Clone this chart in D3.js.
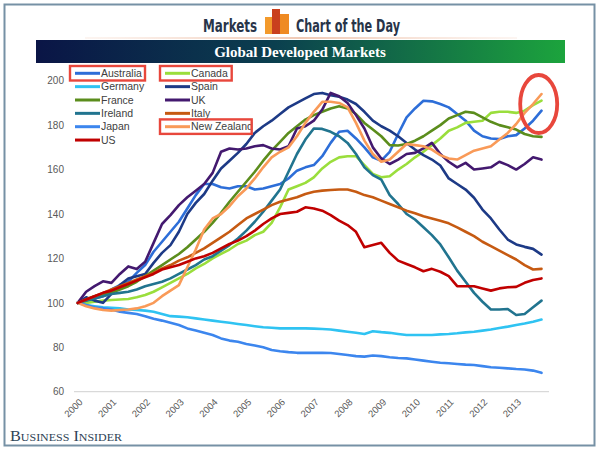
<!DOCTYPE html>
<html>
<head>
<meta charset="utf-8">
<script src="https://cdn.jsdelivr.net/npm/d3@7"></script>
<style>
    body { margin: 0; background: #fff; }
    svg { display: block; }
</style>
</head>
<body>
<svg width="599" height="450"></svg>
<script>
// quarterly house price index, 2000 Q1 = 100
const years = [2000, 2001, 2002, 2003, 2004, 2005, 2006, 2007, 2008, 2009, 2010, 2011, 2012, 2013];
const quarters = d3.range(56).map((i) => 2000 + i / 4);
const yTicks = [60, 80, 100, 120, 140, 160, 180, 200];

const australia = [100, 101, 102, 103, 106, 108, 109.5, 113.5, 117, 123, 127.5, 132, 136.5, 142.5, 148.5, 153.5, 153.5, 152, 151.5, 152.5, 152.5, 151, 151.5, 152.5, 153.5, 156, 159.5, 161, 162, 166, 172, 177, 177.5, 174, 170, 165.5, 164, 168, 176, 183.5, 187.5, 191, 190.7, 189.5, 188, 185, 182, 177.5, 175, 174, 173.7, 175, 175.5, 178.5, 182, 186.5];
const canada = [100, 100, 100.5, 101, 101.3, 101.5, 101.7, 102.5, 103.5, 105, 107, 109, 111, 113, 115.5, 117.5, 120, 122, 124, 126.5, 128, 130.5, 132, 136, 143, 151, 152.5, 154, 156.5, 160.5, 163.5, 165.5, 166, 166, 162, 158, 156.5, 157, 160, 162.5, 165.5, 168, 171, 174, 177.5, 179, 181, 181.5, 182, 185.5, 186, 186, 185.5, 186.5, 189, 191];
const germany = [100, 99, 98.5, 98, 97.8, 97.5, 97, 96.8, 96.5, 96, 95, 94, 93.8, 93.5, 93, 92.5, 92, 91.5, 91, 90.5, 90, 89.5, 89, 88.8, 88.5, 88.5, 88.5, 88.5, 88.4, 88.2, 88, 87.5, 87, 86.5, 86, 87.2, 86.8, 86.5, 86, 85.5, 85.5, 85.5, 85.5, 85.8, 86, 86.3, 86.7, 87, 87.5, 88, 88.7, 89.3, 90, 90.7, 91.5, 92.5];
const spain = [100, 102.5, 101, 100, 104, 108, 111, 112, 113, 118, 122.5, 126, 132, 140, 145, 149, 155, 160.5, 164, 167.5, 171.5, 176.5, 179.5, 182, 185, 188, 190, 192, 194, 194.5, 193.5, 192.8, 191.5, 189.5, 186, 182, 179.5, 177.5, 175, 172, 169, 166.5, 164.5, 161.8, 156, 153.5, 151, 147.3, 142, 138, 133, 128.5, 126.3, 125.2, 124.3, 121.7];
const france = [100, 101.5, 103, 104, 104.5, 106, 107.5, 109.5, 112, 114.5, 117, 119.5, 122, 125, 128.5, 132, 136, 140.5, 145.5, 150, 154.5, 159, 164, 168.5, 172.5, 176.5, 179.5, 182.5, 184.5, 186, 187.5, 188.5, 187.5, 185, 181, 178, 175, 171, 170.8, 171.5, 173, 175, 177.5, 180, 183, 184.5, 186, 185.5, 183.5, 181.5, 180, 179, 178, 176, 175, 174.7];
const uk = [100, 105, 107.5, 109.7, 109, 113, 116.4, 115.2, 118.5, 127, 135.5, 139.5, 144, 147.5, 150.5, 153.5, 158.5, 168, 169.5, 169, 169.5, 170.5, 171, 169.5, 169, 170.5, 178.5, 179.5, 182, 187, 194.5, 193, 190, 184.5, 178.5, 170, 165, 162.5, 164.5, 167, 167.5, 169.5, 172, 167, 163.5, 161, 163, 160, 160.5, 161, 163.5, 162, 160, 162.5, 165.5, 164.5];
const ireland = [100, 101, 102, 103, 104, 104.5, 105, 106, 107.5, 108.5, 109.5, 111, 113, 115, 117, 119.5, 121, 123.5, 126, 129, 132.5, 136.5, 141, 146, 151, 159, 167, 173.5, 178.5, 178.3, 177, 175, 172, 167, 161, 157.5, 155.5, 148.5, 144.5, 140, 137.5, 134, 130.5, 126.3, 120.5, 114.5, 109.5, 104.5, 100.5, 97, 97, 97.2, 94.5, 95, 98, 101];
const italy = [100, 101.5, 103, 104.5, 106, 107.5, 109, 110.5, 112, 113.5, 115.5, 117, 119, 120.5, 122.5, 124.5, 127, 129.5, 132, 135, 138, 140, 142, 144, 145.5, 146.5, 147.5, 149, 150, 150.5, 150.8, 151, 151, 150, 148.5, 147.5, 146, 144.5, 143, 141.5, 140.3, 139, 138, 137, 135.8, 134, 132, 130, 127.5, 125.5, 123.5, 121.5, 119.5, 117, 115, 115.3];
const japan = [100, 99, 98, 97.5, 97, 96, 95.5, 95, 94, 92.8, 92, 91, 90, 88.5, 87.5, 86.5, 85.5, 84, 83, 82.5, 81.5, 80.8, 80, 78.8, 78.2, 77.8, 77.5, 77.5, 77.5, 77.5, 77.4, 77, 76.5, 76, 75.8, 76.3, 76, 75.5, 75.2, 75, 74.5, 74, 73.5, 73, 72.8, 72.5, 72.2, 72, 71.5, 71, 70.8, 70.5, 70.2, 70, 69.5, 68.5];
const newZealand = [100, 98.5, 97.5, 96.8, 96.5, 96.8, 97, 97.5, 98.5, 100, 103, 105.5, 108, 116, 124, 133, 138, 140, 143.5, 148, 151.5, 156, 161, 165.5, 168, 170, 175, 181, 186, 190.5, 190.5, 190, 188, 181, 173, 167, 163.5, 164.5, 168, 171.5, 171, 170.5, 169, 166.5, 165, 164.5, 166.5, 168.5, 169.5, 170.5, 173.5, 176.5, 180.5, 185.5, 189.5, 194];
const us = [100, 101.5, 103, 104.5, 105.5, 107, 108.5, 110, 111.5, 113, 115, 116, 117, 118.5, 120, 121, 122.5, 124.5, 126.5, 128, 130, 132.5, 135.5, 138, 140, 140.5, 141, 143, 142.5, 141.5, 139.5, 137, 135, 132, 125, 126, 127, 122.5, 119, 117.5, 116, 114.2, 115.3, 114, 112, 107.5, 107.5, 107.5, 106.5, 105.5, 106.5, 107, 107.2, 109, 110.3, 111];

// drawing order = Excel series order (US ends on top)
const names = ['Australia', 'Canada', 'Germany', 'Spain', 'France', 'UK', 'Ireland', 'Italy', 'Japan', 'New Zealand', 'US'];
const values = [australia, canada, germany, spain, france, uk, ireland, italy, japan, newZealand, us];
const colors = ['#2d6ed8', '#9ade3c', '#2fc3f2', '#1d3a86', '#5b8d1c', '#43196f', '#21748f', '#c65a12', '#3c86ee', '#f99a58', '#c00000'];
const circled = ['Australia', 'Canada', 'New Zealand'];

function renderChart() {
    const svg = d3.select('svg');
    const defs = svg.append('defs');

    // frame round the whole picture
    svg.append('rect')
        .attr('x', 4.5)
        .attr('y', 4.5)
        .attr('width', 590)
        .attr('height', 441)
        .attr('fill', 'none')
        .attr('stroke', '#7691a5')
        .attr('stroke-width', 2);

    // header: Markets [icon] Chart of the Day
    const head = svg.append('g').attr('fill', '#283449').style('font-family', '"DejaVu Sans Condensed", "Liberation Sans Narrow", sans-serif').style('font-weight', 'bold').style('font-size', '17px');
    head.append('text').attr('x', 203).attr('y', 32).attr('textLength', 54).attr('lengthAdjust', 'spacingAndGlyphs').text('Markets');
    head.append('text').attr('x', 296).attr('y', 32).attr('textLength', 104).attr('lengthAdjust', 'spacingAndGlyphs').text('Chart of the Day');
    head.append('rect').attr('x', 265).attr('y', 17).attr('width', 9).attr('height', 17).attr('fill', '#f39a2c');
    head.append('rect').attr('x', 280).attr('y', 14).attr('width', 9).attr('height', 20).attr('fill', '#ef8a22');
    head.append('rect').attr('x', 272).attr('y', 9).attr('width', 8).attr('height', 25).attr('fill', '#c9401e');

    const peach = defs.append('linearGradient').attr('id', 'peach');
    peach.append('stop').attr('offset', 0).attr('stop-color', '#f6ddd0').attr('stop-opacity', 0.3);
    peach.append('stop').attr('offset', 0.5).attr('stop-color', '#f0c9b4');
    peach.append('stop').attr('offset', 1).attr('stop-color', '#f6ddd0').attr('stop-opacity', 0.3);
    svg.append('rect').attr('x', 85).attr('y', 37).attr('width', 432).attr('height', 2).attr('fill', 'url(#peach)');

    const band = defs.append('linearGradient').attr('id', 'band');
    band.append('stop').attr('offset', 0).attr('stop-color', '#0a1546');
    band.append('stop').attr('offset', 0.45).attr('stop-color', '#0b3f4f');
    band.append('stop').attr('offset', 1).attr('stop-color', '#1ca43d');
    svg.append('rect').attr('x', 36).attr('y', 40).attr('width', 529).attr('height', 23).attr('fill', 'url(#band)');
    svg.append('text')
        .attr('x', 300)
        .attr('y', 57)
        .attr('text-anchor', 'middle')
        .attr('fill', '#fff')
        .style('font', 'bold 15px "Liberation Serif", serif')
        .text('Global Developed Markets');

    // scales
    const x = d3.scaleLinear().domain([2000, 2013.75]).range([77.7, 541.5]);
    const y = d3.scaleLinear().domain([60, 200]).range([391.7, 80.7]);

    // only the 60 line is drawn
    svg.append('line')
        .attr('x1', 74)
        .attr('x2', 549)
        .attr('y1', y(60))
        .attr('y2', y(60))
        .attr('stroke', '#d9d9d9')
        .attr('stroke-width', 1.2);

    const yAxis = d3.axisLeft(y).tickValues(yTicks).tickSize(0).tickPadding(0);
    svg.append('g')
        .attr('transform', 'translate(64,0)')
        .call(yAxis)
        .call((g) => g.select('.domain').remove())
        .selectAll('text')
        .attr('fill', '#595959')
        .style('font', '10px "Liberation Sans", Arial, sans-serif');

    const xAxis = d3.axisBottom(x).tickValues(years).tickFormat(d3.format('d')).tickSize(0);
    svg.append('g')
        .attr('transform', `translate(0,${y(60)})`)
        .call(xAxis)
        .call((g) => g.select('.domain').remove())
        .selectAll('text')
        .attr('fill', '#595959')
        .style('font', '9.5px "Liberation Sans", Arial, sans-serif')
        .attr('text-anchor', 'end')
        .attr('dy', 0)
        .attr('transform', 'translate(3,9) rotate(-45)');

    // series lines
    const line = d3
        .line()
        .x((d, i) => x(quarters[i]))
        .y((d) => y(d));

    svg.append('g')
        .attr('fill', 'none')
        .attr('stroke-width', 2.6)
        .attr('stroke-linejoin', 'round')
        .attr('stroke-linecap', 'round')
        .selectAll('path')
        .data(values)
        .enter()
        .append('path')
        .attr('stroke', (d, i) => colors[i])
        .attr('d', line);

    // legend, two columns like Excel puts it
    const legendOrder = ['Australia', 'Canada', 'Germany', 'Spain', 'France', 'UK', 'Ireland', 'Italy', 'Japan', 'New Zealand', 'US'];
    const item = svg
        .append('g')
        .selectAll('g')
        .data(legendOrder)
        .enter()
        .append('g')
        .attr('transform', (d, i) => `translate(${i % 2 ? 165 : 75},${73.3 + Math.floor(i / 2) * 13.35})`);
    item.append('line')
        .attr('x1', 0)
        .attr('x2', 25)
        .attr('stroke-width', 3)
        .attr('stroke', (d) => colors[names.indexOf(d)]);
    item.append('text')
        .attr('x', 26)
        .attr('dy', '0.35em')
        .attr('fill', '#404040')
        .style('font', '10.5px "Liberation Sans", Arial, sans-serif')
        .text((d) => d);

    // red highlight boxes
    item.filter((d) => circled.includes(d))
        .append('rect')
        .attr('x', -5)
        .attr('y', -7.3)
        .attr('width', (d) => (d === 'New Zealand' ? 91.7 : d === 'Canada' ? 71.7 : 75))
        .attr('height', 14.5)
        .attr('fill', 'none')
        .attr('stroke', '#e8473c')
        .attr('stroke-width', 2.4);

    svg.append('ellipse')
        .attr('cx', 538.7)
        .attr('cy', 104)
        .attr('rx', 18.5)
        .attr('ry', 29)
        .attr('fill', 'none')
        .attr('stroke', '#e8473c')
        .attr('stroke-width', 3.8);

    svg.append('text')
        .attr('x', 10)
        .attr('y', 441)
        .attr('fill', '#2e4255')
        .style('font', '15px "Liberation Serif", serif')
        .style('font-variant', 'small-caps')
        .attr('textLength', 112)
        .attr('lengthAdjust', 'spacingAndGlyphs')
        .text('Business Insider');
}

renderChart();
</script>
</body>
</html>
